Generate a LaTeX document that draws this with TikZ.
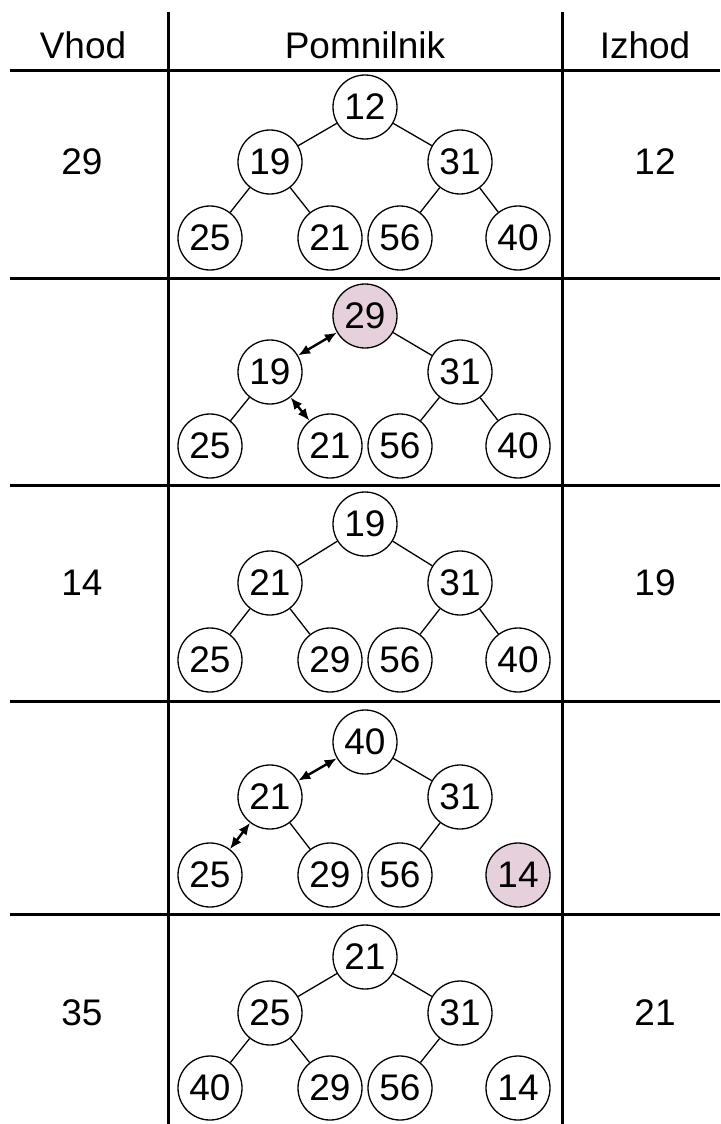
\documentclass[tikz,border=0pt]{standalone}
\usepackage{fontspec}
\setmainfont{Liberation Sans}
\usepackage{xcolor}
\usetikzlibrary{arrows.meta, positioning}

\definecolor{heappink}{RGB}{229,208,220}

\tikzset{
  key/.style={circle, draw, line width=1.3pt, minimum size=64pt, inner sep=0pt,
    font=\fontsize{37}{42}\selectfont},
  hot/.style={key, fill=heappink},
  edge/.style={line width=1.3pt},
  swap/.style={line width=2.4pt, {Latex[length=12pt,width=10pt]}-{Latex[length=12pt,width=10pt]}},
  rule/.style={line width=3pt},
  cell/.style={font=\fontsize{37}{42}\selectfont}
}

\begin{document}
\begin{tikzpicture}[x=1pt,y=-1pt]
  \useasboundingbox (0,0) rectangle (720,1124);

  % Table frame
  \coordinate (colA top) at (168,12);
  \coordinate (colA bot) at (168,1124);
  \coordinate (colB top) at (562,12);
  \coordinate (colB bot) at (562,1124);
  \draw[rule] (colA top) -- (colA bot);
  \draw[rule] (colB top) -- (colB bot);
  \foreach \y in {71,278,485,701,914}
    \draw[rule] (10,\y) -- (720,\y);

  % Header
  \node[cell] (hin)  at (83,45)  {Vhod};
  \node[cell] (hmem) at (365,45) {Pomnilnik};
  \node[cell] (hout) at (645,45) {Izhod};

  % Row 1
  \node[cell] (in1)  at (82,162)  {29};
  \node[cell] (out1) at (655,162) {12};
  \node[key] (a1) at (365,107) {12};
  \node[key] (b1) at (270,162) {19};
  \node[key] (c1) at (460,162) {31};
  \node[key] (d1) at (210,238) {25};
  \node[key] (e1) at (330,238) {21};
  \node[key] (f1) at (400,238) {56};
  \node[key] (g1) at (518,238) {40};
  \draw[edge] (a1) -- (b1);
  \draw[edge] (a1) -- (c1);
  \draw[edge] (b1) -- (d1);
  \draw[edge] (b1) -- (e1);
  \draw[edge] (c1) -- (f1);
  \draw[edge] (c1) -- (g1);

  % Row 2
  \node[hot] (a2) at (365,316) {29};
  \node[key] (b2) at (270,372) {19};
  \node[key] (c2) at (460,372) {31};
  \node[key] (d2) at (210,446) {25};
  \node[key] (e2) at (330,446) {21};
  \node[key] (f2) at (400,446) {56};
  \node[key] (g2) at (518,446) {40};
  \draw[swap] (b2) -- (a2);
  \draw[edge] (a2) -- (c2);
  \draw[edge] (b2) -- (d2);
  \draw[swap] (b2) -- (e2);
  \draw[edge] (c2) -- (f2);
  \draw[edge] (c2) -- (g2);

  % Row 3
  \node[cell] (in3)  at (82,583)  {14};
  \node[cell] (out3) at (655,583) {19};
  \node[key] (a3) at (365,524) {19};
  \node[key] (b3) at (270,583) {21};
  \node[key] (c3) at (460,583) {31};
  \node[key] (d3) at (210,660) {25};
  \node[key] (e3) at (330,660) {29};
  \node[key] (f3) at (400,660) {56};
  \node[key] (g3) at (518,660) {40};
  \draw[edge] (a3) -- (b3);
  \draw[edge] (a3) -- (c3);
  \draw[edge] (b3) -- (d3);
  \draw[edge] (b3) -- (e3);
  \draw[edge] (c3) -- (f3);
  \draw[edge] (c3) -- (g3);

  % Row 4
  \node[key] (a4) at (365,742) {40};
  \node[key] (b4) at (270,797) {21};
  \node[key] (c4) at (460,797) {31};
  \node[key] (d4) at (210,875) {25};
  \node[key] (e4) at (330,875) {29};
  \node[key] (f4) at (400,875) {56};
  \node[hot] (g4) at (518,875) {14};
  \draw[swap] (b4) -- (a4);
  \draw[edge] (a4) -- (c4);
  \draw[swap] (b4) -- (d4);
  \draw[edge] (b4) -- (e4);
  \draw[edge] (c4) -- (f4);

  % Row 5
  \node[cell] (in5)  at (82,1013)  {35};
  \node[cell] (out5) at (655,1013) {21};
  \node[key] (a5) at (365,957) {21};
  \node[key] (b5) at (270,1013) {25};
  \node[key] (c5) at (460,1013) {31};
  \node[key] (d5) at (210,1088) {40};
  \node[key] (e5) at (330,1088) {29};
  \node[key] (f5) at (400,1088) {56};
  \node[key] (g5) at (518,1088) {14};
  \draw[edge] (a5) -- (b5);
  \draw[edge] (a5) -- (c5);
  \draw[edge] (b5) -- (d5);
  \draw[edge] (b5) -- (e5);
  \draw[edge] (c5) -- (f5);
\end{tikzpicture}
\end{document}
